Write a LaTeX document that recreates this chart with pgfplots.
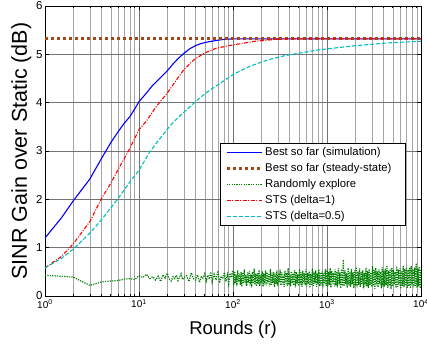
\documentclass[border=0pt]{standalone}
\usepackage{fontspec}
\setmainfont{Liberation Sans}
\usepackage{graphicx}
\usepackage{pgfplots}
\pgfplotsset{compat=1.18}
\definecolor{ssbrown}{RGB}{165,70,20}
\definecolor{mgreen}{RGB}{0,128,0}
\definecolor{mcyan}{RGB}{0,190,190}
\begin{document}
\begin{tikzpicture}
\begin{axis}[
  scale only axis, width=376pt, height=290pt,
  xmode=log, xmin=1, xmax=10000, ymin=0, ymax=6,
  xtick={1,10,100,1000,10000},
  xticklabels={10\textsuperscript{0},10\textsuperscript{1},10\textsuperscript{2},10\textsuperscript{3},10\textsuperscript{4}},
  ytick={0,1,2,3,4,5,6},
  /pgf/number format/assume math mode=true,
  grid=both,
  major grid style={black!55, line width=0.4pt},
  minor grid style={black!35, line width=0.4pt},
  tick align=inside, major tick length=4pt, minor tick length=2pt,
  axis line style={line width=0.9pt},
  tick style={black, line width=0.6pt},
  xlabel={Rounds (r)}, ylabel={SINR Gain over Static (dB)},
  xlabel style={font=\fontsize{18.5}{20}\selectfont, yshift=-6pt},
  ylabel style={font=\fontsize{21.5}{23}\selectfont, yshift=-2pt},
  xticklabel style={font=\fontsize{10}{12}\selectfont},
  yticklabel style={font=\fontsize{11.5}{13}\selectfont, xshift=1pt},
  legend cell align=left,
  legend style={at={(0.4655,0.5276)}, anchor=north west, draw=black, line width=0.8pt,
    font=\fontsize{11.3}{13}\selectfont, row sep=2.4pt, inner xsep=5pt, inner ysep=2pt},
  legend image code/.code={\draw[#1] (3pt,0pt) -- (38pt,0pt);},
  legend image post style={line width=1.1pt},
]
\addplot[blue, line width=1.1pt] coordinates {
(1,1.20)(1.5,1.62)(2,1.97)(3,2.42)(4,2.85)(5,3.17)(6,3.40)(7,3.58)(8,3.71)(9,3.87)(10,4.02)(12,4.20)(14,4.36)(17,4.52)(20,4.66)(23,4.80)(26,4.91)(30,5.02)(35,5.12)(40,5.18)(45,5.22)(55,5.26)(68,5.29)(80,5.31)(100,5.32)(10000,5.32)};
\addlegendentry{Best so far (simulation)}
\addplot[ssbrown, line width=2.8pt, dash pattern=on 3.2pt off 2.8pt, legend image post style={line width=2.8pt}] coordinates {(1,5.32)(10000,5.32)};
\addlegendentry{Best so far (steady-state)\kern7pt}
\addplot[mgreen, line width=1.2pt, dash pattern=on 1.2pt off 1.2pt, legend image post style={line width=1.2pt}] table {
1 0.43
2 0.39
3 0.22
4 0.29
5 0.31
6 0.32
7 0.35
8 0.36
9 0.34
10 0.42
11 0.38
12 0.45
13 0.36
14 0.40
15 0.33
16 0.41
17 0.30
18 0.44
19 0.37
20 0.47
21 0.35
22 0.31
23 0.40
24 0.36
25 0.43
26 0.32
27 0.39
28 0.46
29 0.34
30 0.38
32 0.42
34 0.30
36 0.48
38 0.36
40 0.33
42 0.44
44 0.28
46 0.40
48 0.37
50 0.46
52 0.31
54 0.43
56 0.35
58 0.50
60 0.29
63 0.45
66 0.33
69 0.52
72 0.27
75 0.41
78 0.36
81 0.49
84 0.30
87 0.44
90 0.25
93 0.47
96 0.38
99 0.53
100 0.48
102 0.22
104 0.51
106 0.26
108 0.44
110 0.20
112 0.53
115 0.29
117 0.46
120 0.23
122 0.50
124 0.19
127 0.47
129 0.27
132 0.55
135 0.24
137 0.43
140 0.21
143 0.49
146 0.28
149 0.52
152 0.22
155 0.45
158 0.18
161 0.50
164 0.26
168 0.57
171 0.23
175 0.46
178 0.20
182 0.48
185 0.25
189 0.54
193 0.21
197 0.44
201 0.27
205 0.51
209 0.19
213 0.47
217 0.24
222 0.53
226 0.22
231 0.49
235 0.26
240 0.45
245 0.20
250 0.56
255 0.23
260 0.48
265 0.27
270 0.50
276 0.18
281 0.46
287 0.25
293 0.53
299 0.21
305 0.47
311 0.28
317 0.55
323 0.22
330 0.49
336 0.24
343 0.44
350 0.19
357 0.52
364 0.26
371 0.48
379 0.21
386 0.58
394 0.23
402 0.46
410 0.20
418 0.51
427 0.27
435 0.47
444 0.22
453 0.54
462 0.18
471 0.50
480 0.25
490 0.45
500 0.21
510 0.56
520 0.24
530 0.49
541 0.19
552 0.52
563 0.26
574 0.47
586 0.22
597 0.55
609 0.20
622 0.48
634 0.25
647 0.51
660 0.17
673 0.46
686 0.23
700 0.57
714 0.21
728 0.50
743 0.26
758 0.53
773 0.19
788 0.47
804 0.24
820 0.55
837 0.20
853 0.49
870 0.22
888 0.52
906 0.18
924 0.48
942 0.25
961 0.56
980 0.21
1000 0.54
1020 0.19
1040 0.50
1060 0.23
1080 0.58
1100 0.17
1120 0.52
1150 0.26
1170 0.48
1200 0.20
1220 0.55
1240 0.22
1270 0.51
1290 0.18
1320 0.57
1350 0.24
1370 0.49
1400 0.16
1430 0.56
1460 0.21
1490 0.75
1520 0.20
1550 0.53
1580 0.25
1610 0.47
1640 0.17
1680 0.58
1710 0.22
1750 0.50
1780 0.19
1820 0.56
1850 0.24
1890 0.49
1930 0.16
1970 0.54
2010 0.21
2050 0.60
2090 0.18
2130 0.51
2170 0.23
2220 0.57
2260 0.19
2310 0.50
2350 0.25
2400 0.53
2450 0.16
2500 0.48
2550 0.22
2600 0.59
2650 0.20
2700 0.52
2760 0.17
2810 0.56
2870 0.23
2930 0.49
2990 0.19
3050 0.62
3110 0.21
3170 0.54
3230 0.15
3300 0.58
3360 0.22
3430 0.51
3500 0.18
3570 0.55
3640 0.24
3710 0.50
3790 0.16
3860 0.60
3940 0.20
4020 0.53
4100 0.19
4180 0.57
4270 0.23
4350 0.62
4440 0.17
4530 0.52
4620 0.21
4710 0.56
4800 0.15
4900 0.59
5000 0.20
5100 0.54
5200 0.24
5300 0.50
5410 0.16
5520 0.61
5630 0.19
5740 0.55
5860 0.22
5970 0.57
6090 0.15
6220 0.52
6340 0.21
6470 0.63
6600 0.18
6730 0.56
6860 0.23
7000 0.60
7140 0.17
7280 0.54
7430 0.20
7580 0.58
7730 0.16
7880 0.62
8040 0.22
8200 0.55
8370 0.18
8530 0.59
8700 0.21
8880 0.68
9060 0.17
9240 0.57
9420 0.20
9610 0.61
9800 0.16
10000 0.55
};
\addlegendentry{Randomly explore}
\addplot[red, line width=1.1pt, dash pattern=on 4pt off 1.5pt on 1pt off 1.5pt] coordinates {
(1,0.58)(1.5,0.82)(2,1.08)(3,1.54)(4,2.02)(5,2.33)(6,2.62)(7,2.85)(8,3.06)(9,3.26)(10,3.44)(12,3.62)(15,3.90)(20,4.20)(25,4.47)(30,4.68)(38,4.88)(49,5.02)(65,5.12)(90,5.18)(120,5.22)(170,5.27)(250,5.30)(350,5.32)(10000,5.32)};
\addlegendentry{STS (delta=1)}
\addplot[mcyan, line width=1.1pt, dash pattern=on 4pt off 2pt] coordinates {
(1,0.58)(1.5,0.78)(2,0.97)(3,1.30)(4,1.58)(5,1.82)(6,2.02)(7,2.20)(8,2.36)(10,2.60)(13,2.98)(17,3.28)(22,3.55)(28,3.75)(35,3.92)(45,4.11)(55,4.24)(73,4.40)(100,4.58)(120,4.66)(150,4.75)(230,4.88)(350,4.97)(525,5.03)(800,5.09)(1200,5.13)(1800,5.17)(2700,5.20)(4000,5.23)(6000,5.25)(10000,5.27)};
\addlegendentry{STS (delta=0.5)}
\end{axis}
\pgfresetboundingbox
\path ([shift={(-45pt,-51pt)}]current axis.south west) rectangle ([shift={(6pt,6pt)}]current axis.north east);
\end{tikzpicture}
\end{document}
